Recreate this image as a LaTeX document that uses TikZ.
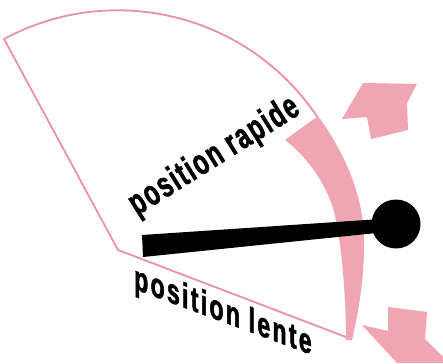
\documentclass[tikz,border=0pt]{standalone}
\usepackage{fontspec}
\newfontfamily\rapfont[FakeStretch=0.66,FakeBold=1.5,LetterSpace=5]{Liberation Sans Bold}
\newfontfamily\lenfont[FakeStretch=0.66,FakeBold=1.5,LetterSpace=6.5]{Liberation Sans Bold}
\definecolor{pinkline}{RGB}{234,145,162}
\definecolor{pinkfill}{RGB}{240,165,178}
\begin{document}
\begin{tikzpicture}[x=1pt,y=-1pt,
  outline/.style={draw=pinkline,line width=1.8pt,line join=round},
  pinkshape/.style={fill=pinkfill},
  lab/.style={inner sep=0pt}]
\useasboundingbox (0,0) rectangle (443,363);
\fill[white] (0,0) rectangle (443,363);
% sector outline
\coordinate (apex) at (118,250);
\coordinate (botc) at (346,337);
\draw[outline] (botc) -- (apex) -- (4,39)
  arc[start angle=-118.3,end angle=-33.2,radius=240];
% pink band
\fill[pinkshape] (285,140) -- (318,116)
  .. controls (334,138) and (354,172) .. (361,210)
  .. controls (367,240) and (364,290) .. (352,340)
  -- (346,340)
  .. controls (346,300) and (342,240) .. (333,208)
  .. controls (324,180) and (305,155) .. (285,140) -- cycle;
% arrows
\fill[pinkshape] (342,119) -- (363,83) -- (417,84) -- (407,103) -- (408,130)
  -- (371,139) -- (367,117) -- cycle;
\fill[pinkshape] (362,325) -- (388,331) -- (388,307) -- (427,312) -- (425,339)
  -- (443,357) -- (443,363) -- (397,363) -- cycle;
% needle
\node[circle,fill=black,minimum size=49pt,inner sep=0pt] (ball) at (396,224) {};
\fill[black] (142,235) -- (ball.center |- 0,218) -- (ball.center |- 0,231) -- (143,257) -- cycle;
% labels
\node[lab,font=\rapfont\fontsize{36}{36}\selectfont,rotate=32,anchor=base west] (rapide) at (137,216) {position rapide};
\begin{scope}[shift={(134,289)},yslant=-0.37]
\node[lab,font=\lenfont\fontsize{35}{35}\selectfont,transform shape,anchor=base west] (lente) at (0,0) {position lente};
\end{scope}
\end{tikzpicture}
\end{document}
